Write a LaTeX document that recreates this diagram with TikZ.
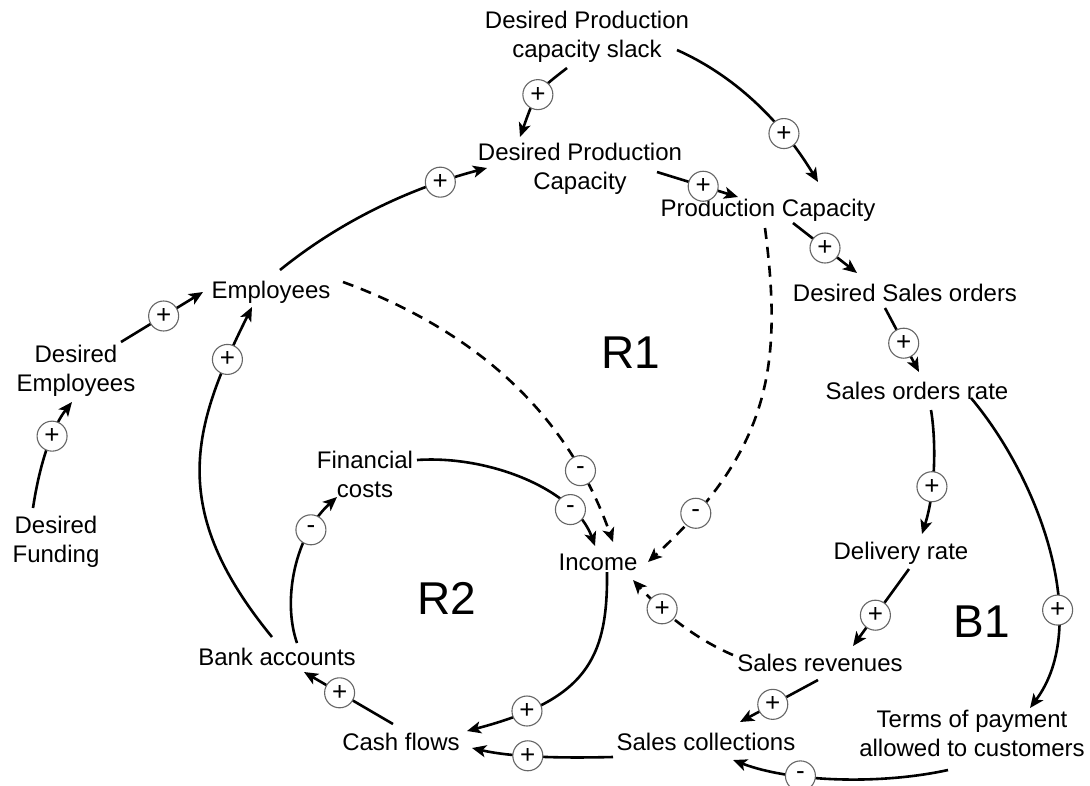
\documentclass[tikz,border=0pt]{standalone}
\usepackage{fontspec}
\setmainfont{Liberation Sans}
\usetikzlibrary{arrows.meta,calc}
\begin{document}
\begin{tikzpicture}[x=1pt,y=-1pt,
 lbl/.style={font=\fontsize{24}{29}\selectfont, align=center, inner sep=0pt},
 big/.style={font=\fontsize{46}{52}\selectfont, inner sep=0pt},
 arr/.style={line width=2.6pt, -{Stealth[length=14pt,width=12pt,inset=3.5pt]}},
 dsh/.style={arr, dash pattern=on 11pt off 8pt},
 pol/.style={solid, circle, draw=black!60, line width=1.1pt, fill=white, minimum size=30pt, inner sep=0pt, font=\fontsize{26}{26}\selectfont}]
\path[use as bounding box, fill=white] (0,0) rectangle (1090,785);

% variables
\node[lbl] (dpcs) at (587,37) {Desired Production\\capacity slack};
\node[lbl] (dpc) at (580,169) {Desired Production\\Capacity};
\node[lbl] (pc) at (768,210) {Production Capacity};
\node[lbl] (dso) at (905,293) {Desired Sales orders};
\node[lbl] (sor) at (917,391) {Sales orders rate};
\node[lbl] (dr) at (901,553) {Delivery rate};
\node[lbl] (sr) at (820,663) {Sales revenues};
\node[lbl] (terms) at (972,733) {Terms of payment\\allowed to customers};
\node[lbl] (sc) at (706,742) {Sales collections};
\node[lbl] (cf) at (401,742) {Cash flows};
\node[lbl] (ba) at (277,657) {Bank accounts};
\node[lbl] (inc) at (598,562) {Income};
\node[lbl] (fc) at (365,474) {Financial\\costs};
\node[lbl] (emp) at (271,292) {Employees};
\node[lbl] (de) at (76,371) {Desired\\Employees};
\node[lbl] (df) at (56,542) {Desired\\Funding};

% loop labels
\node[big] (r1) at (631,353) {R1};
\node[big] (r2) at (447,598) {R2};
\node[big] (b1) at (982,622) {B1};

% connectors
\draw[arr] ($(dpcs)+(-20,31)$) .. controls (536,92) .. ($(dpc)+(-60,-32)$) node[pol,pos=.5] (p1) {+};
\draw[arr] ($(dpcs)+(90,13)$) .. controls (733,75) and (780,119) .. ($(pc)+(50,-28)$) node[pol,pos=.72] (p2) {+};
\draw[arr] ($(dpc)+(77,3)$) -- ($(pc)+(-30,-13)$) node[pol,pos=.57] (p3) {+};
\draw[arr] ($(emp)+(9,-22)$) .. controls (338,223) and (407,189) .. ($(dpc)+(-93,-1)$) node[pol,pos=.8] (p4) {+};
\draw[arr] ($(pc)+(25,13)$) -- ($(dso)+(-48,-20)$) node[pol,pos=.5] (p5) {+};
\draw[arr] ($(dso)+(-20,15)$) -- ($(sor)+(2,-19)$) node[pol,pos=.55] (p6) {+};
\draw[arr] ($(sor)+(14,19)$) .. controls (936,440) and (936,490) .. ($(dr)+(21,-19)$) node[pol,pos=.65] (p7) {+};
\draw[arr] ($(sor)+(54,7)$) .. controls (1040,480) and (1092,625) .. ($(terms)+(58,-25)$) node[pol,pos=.67] (p8) {+};
\draw[arr] ($(dr)+(8,16)$) -- ($(sr)+(33,-17)$) node[pol,pos=.6] (p9) {+};
\draw[arr] ($(sr)+(-2,17)$) -- ($(sc)+(34,-20)$) node[pol,pos=.58] (p10) {+};
\draw[arr] ($(terms)+(-24,37)$) .. controls (880,785) and (790,782) .. ($(sc)+(27,18)$) node[pol,pos=.66] (p11) {-};
\draw[arr] ($(sc)+(-93,15)$) .. controls (570,758) and (515,758) .. ($(cf)+(71,6)$) node[pol,pos=.6] (p12) {+};
\draw[arr] ($(inc)+(9,10)$) .. controls (608,660) and (585,700) .. ($(cf)+(66,-11)$) node[pol,pos=.8] (p13) {+};
\draw[arr] ($(cf)+(-8,-18)$) -- ($(ba)+(27,15)$) node[pol,pos=.6] (p14) {+};
\draw[arr] ($(ba)+(20,-14)$) .. controls (282,600) and (295,535) .. ($(fc)+(-28,23)$) node[pol,pos=.75] (p15) {-};
\draw[arr] ($(ba)+(-5,-20)$) .. controls (168,510) and (191,429) .. ($(emp)+(-19,15)$) node[pol,pos=.85] (p16) {+};
\draw[arr] ($(fc)+(52,-14)$) .. controls (490,455) and (575,490) .. ($(inc)+(-3,-16)$) node[pol,pos=.76] (p17) {-};
\draw[dsh] ($(emp)+(72,-10)$) .. controls (493,337) and (573,429) .. ($(inc)+(15,-20)$) node[pol,pos=.78] (p18) {-};
\draw[dsh] ($(pc)+(-3,18)$) .. controls (783,367) and (770,450) .. ($(inc)+(50,0)$) node[pol,pos=.85] (p19) {-};
\draw[dsh] ($(sr)+(-87,-8)$) .. controls (698,640) and (665,615) .. ($(inc)+(35,18)$) node[pol,pos=.7] (p20) {+};
\draw[arr] ($(df)+(-23,-34)$) .. controls (40,461) and (53,426) .. ($(de)+(-4,31)$) node[pol,pos=.6] (p21) {+};
\draw[arr] ($(de)+(45,-29)$) -- ($(emp)+(-68,0)$) node[pol,pos=.52] (p22) {+};
\end{tikzpicture}
\end{document}
